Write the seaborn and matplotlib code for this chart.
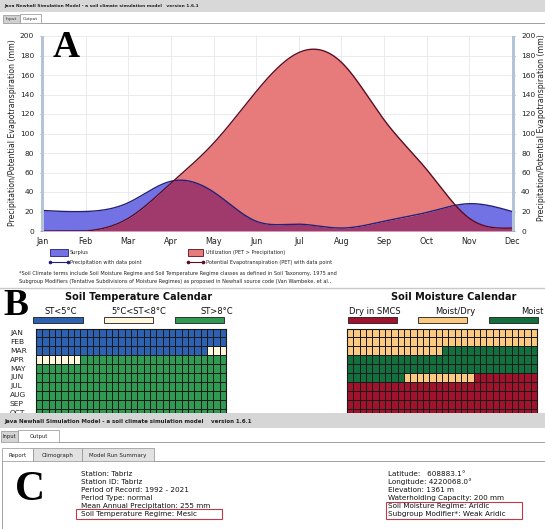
import numpy as np
import pandas as pd
import matplotlib
matplotlib.use("Agg")
import matplotlib.pyplot as plt
import seaborn as sns
from matplotlib.colors import ListedColormap
from matplotlib.patches import Rectangle
from matplotlib.lines import Line2D

# ---------------- data ----------------
months = ["Jan", "Feb", "Mar", "Apr", "May", "Jun", "Jul", "Aug", "Sep", "Oct", "Nov", "Dec"]
precip = [21, 20, 29, 51, 40, 10, 7, 3, 10, 19, 28, 20]
pet = [0, 0, 13, 49, 90, 143, 183, 173, 114, 63, 13, 3]
yticks = [0, 20, 40, 60, 80, 100, 120, 140, 160, 180, 200]

cal_rows = ["JAN", "FEB", "MAR", "APR", "MAY", "JUN", "JUL", "AUG", "SEP", "OCT"]
# temperature classes: 0 = ST<5°C, 1 = 5°C<ST<8°C, 2 = ST>8°C  (runs of days-groups, 30 per month)
temp_runs = [[(0, 30)], [(0, 30)], [(0, 27), (1, 3)], [(1, 7), (2, 23)], [(2, 30)],
             [(2, 30)], [(2, 30)], [(2, 30)], [(2, 30)], [(2, 30)]]
temp_labels = ["ST<5°C", "5°C<ST<8°C", "ST>8°C"]
temp_colors = ["#2d62b3", "#fff8dc", "#2f9a52"]
# moisture classes: 0 = Dry in SMCS, 1 = Moist/Dry, 2 = Moist
moist_runs = [[(1, 30)], [(1, 30)], [(1, 15), (2, 15)], [(2, 30)], [(2, 30)],
              [(2, 9), (1, 11), (0, 10)], [(0, 30)], [(0, 30)], [(0, 30)], [(0, 30)]]
moist_labels = ["Dry in SMCS", "Moist/Dry", "Moist"]
moist_colors = ["#a3122c", "#fbc97f", "#12703e"]

left_info = ["Station: Tabriz", "Station ID: Tabriz", "Period of Record: 1992 - 2021",
             "Period Type: normal", "Mean Annual Precipitation: 255 mm",
             "Soil Temperature Regime: Mesic"]
right_info = ["Latitude:   608883.1°", "Longitude: 4220068.0°", "Elevation: 1361 m",
              "Waterholding Capacity: 200 mm", "Soil Moisture Regime: Aridic",
              "Subgroup Modifier*: Weak Aridic"]

W, H = 545, 529
fig = plt.figure(figsize=(W / 100, H / 100), dpi=100)
fig.patch.set_facecolor("white")


def fx(x):
    return x / W


def fy(y):
    return 1 - y / H


def rect(x0, y0, x1, y1, fc, ec="none", lw=0.6, z=1):
    r = Rectangle((fx(x0), fy(y1)), fx(x1) - fx(x0), fy(y0) - fy(y1), transform=fig.transFigure,
                  facecolor=fc, edgecolor=ec, linewidth=lw, zorder=z)
    fig.add_artist(r)


def txt(x, y, s, size=5, ha="left", va="center", **kw):
    fig.text(fx(x), fy(y), s, fontsize=size, ha=ha, va=va, **kw)


def hline(x0, x1, y, color="#a0a0a0", lw=0.6, z=2):
    fig.add_artist(Line2D([fx(x0), fx(x1)], [fy(y), fy(y)], transform=fig.transFigure,
                          color=color, lw=lw, zorder=z))


# ---------------- window chrome (top) ----------------
rect(0, 0, W, 12, "#d8d8d8")
txt(4, 6.5, "Java Newhall Simulation Model - a soil climate simulation model   version 1.6.1",
    size=3.2, weight="bold", color="#222222")
rect(3, 15, 20, 23, "#d0d0d0", "#909090", 0.5)
rect(20, 14, 41, 23, "white", "#909090", 0.5)
txt(11.5, 19, "Input", size=3.2, ha="center", color="#333333")
txt(30.5, 19, "Output", size=3.2, ha="center", color="#333333")
hline(41, W, 23, "#909090", 0.6)

# ---------------- A: climograph ----------------
def natural_spline(x, y, xs):
    x = np.asarray(x, float)
    y = np.asarray(y, float)
    n = len(x)
    h = np.diff(x)
    A = np.zeros((n, n))
    b = np.zeros(n)
    A[0, 0] = A[-1, -1] = 1
    for i in range(1, n - 1):
        A[i, i - 1] = h[i - 1]
        A[i, i] = 2 * (h[i - 1] + h[i])
        A[i, i + 1] = h[i]
        b[i] = 3 * ((y[i + 1] - y[i]) / h[i] - (y[i] - y[i - 1]) / h[i - 1])
    c = np.linalg.solve(A, b)
    bb = np.diff(y) / h - h * (2 * c[:-1] + c[1:]) / 3
    d = np.diff(c) / (3 * h)
    idx = np.clip(np.searchsorted(x, xs) - 1, 0, n - 2)
    dx = xs - x[idx]
    return y[idx] + bb[idx] * dx + c[idx] * dx ** 2 + d[idx] * dx ** 3


mx = np.arange(len(months))
xs = np.linspace(0, len(months) - 1, 600)
ps = np.clip(natural_spline(mx, precip, xs), 0, None)
es = np.clip(natural_spline(mx, pet, xs), 0, None)
low = np.minimum(ps, es)

ax = fig.add_axes([fx(43), fy(231), fx(512) - fx(43), fy(36) - fy(231)])
ax.set_facecolor("white")
ax.fill_between(xs, 0, low, color="#a13a6c", lw=0, zorder=2)
ax.fill_between(xs, low, ps, color="#7272e4", lw=0, zorder=2)
ax.fill_between(xs, low, es, color="#e77b7b", lw=0, zorder=2)
curves = pd.DataFrame({"x": np.concatenate([xs, xs]), "y": np.concatenate([ps, es]),
                       "series": ["Precipitation"] * len(xs) + ["PET"] * len(xs)})
sns.lineplot(data=curves, x="x", y="y", hue="series",
             palette={"Precipitation": "#22207a", "PET": "#5c0c24"},
             linewidth=1.0, legend=False, ax=ax, zorder=3, estimator=None, sort=False)
ax.set_xlim(0, len(months) - 1)
ax.set_ylim(0, 200)
ax.set_xticks(mx)
ax.set_xticklabels(months, fontsize=5.8, color="#222222")
ax.set_yticks(yticks)
ax.set_yticklabels([str(v) for v in yticks], fontsize=5.4, color="#222222")
ax.grid(True, color="#e6e6ec", lw=0.6, zorder=0)
ax.set_axisbelow(True)
ax.set_xlabel("")
ax.set_ylabel("")
for s in ax.spines.values():
    s.set_visible(False)
ax.tick_params(axis="x", length=0, pad=4)
ax.tick_params(axis="y", which="both", length=2.5, width=0.6, color="#8a9aac",
               direction="out", pad=4, right=True, labelright=True, left=True, labelleft=True)
# light steel-blue axis bars
rect(40.5, 36, 43.5, 231, "#b4c4d6", z=3)
rect(511.5, 36, 514.5, 231, "#b4c4d6", z=3)

txt(12.5, 133, "Precipitation/Potential Evapotranspiration (mm)", size=5.6, ha="center",
    rotation=90, color="#222222")
txt(541, 128, "Precipitation/Potential Evapotranspiration (mm)", size=5.6, ha="center",
    rotation=90, color="#222222")
txt(53, 57, "A", size=27, va="baseline", family="Liberation Serif", weight="bold")

# legend
rect(50, 249, 68, 256, "#7272e4", "#22207a", 0.6)
txt(70, 252.5, "Surplus", size=3.6, color="#222222")
fig.add_artist(Line2D([fx(50), fx(68)], [fy(262), fy(262)], transform=fig.transFigure,
                      color="#22207a", lw=0.8, marker="o", markersize=1.6, markevery=[0, 1]))
txt(70, 262, "Precipitation with data point", size=3.6, color="#222222")
rect(188, 249, 203, 256, "#e77b7b", "#5c0c24", 0.6)
txt(206, 252.5, "Utilization (PET > Precipitation)", size=3.6, color="#222222")
fig.add_artist(Line2D([fx(188), fx(203)], [fy(262), fy(262)], transform=fig.transFigure,
                      color="#5c0c24", lw=0.8, marker="o", markersize=1.6, markevery=[0, 1]))
txt(206, 262, "Potential Evapotranspiration (PET) with data point", size=3.6, color="#222222")
txt(19, 274, "*Soil Climate terms include Soil Moisture Regime and Soil Temperature Regime classes "
    "as defined in Soil Taxonomy, 1975 and", size=3.6, color="#222222")
txt(19, 282, "Subgroup Modifiers (Tentative Subdivisions of Moisture Regimes) as proposed in Newhall "
    "source code (Van Wambeke, et al.,", size=3.6, color="#222222")
hline(0, W, 288, "#c8c8c8", 1.0)

# ---------------- B: calendars ----------------
txt(3, 315, "B", size=27, va="baseline", family="Liberation Serif", weight="bold")


def build(runs):
    mat = []
    for row in runs:
        r = []
        for code, n in row:
            r += [code] * n
        mat.append(r)
    return np.array(mat)


def calendar(x0, x1, runs, colors):
    cax = fig.add_axes([fx(x0), fy(413), fx(x1) - fx(x0), fy(328.5) - fy(413)])
    sns.heatmap(build(runs), cmap=ListedColormap(colors), vmin=-0.5, vmax=2.5, cbar=False,
                linewidths=0.55, linecolor="#1a1a1a", xticklabels=False, yticklabels=False,
                ax=cax)
    cax.set_ylim(9.5, 0)
    for s in cax.spines.values():
        s.set_visible(True)
        s.set_color("#1a1a1a")
        s.set_linewidth(0.8)
    return cax


calendar(36, 226, temp_runs, temp_colors)
calendar(347, 537, moist_runs, moist_colors)
for i, m in enumerate(cal_rows):
    txt(10, 333 + i * 8.9, m, size=5.4, color="#222222")

txt(139, 297, "Soil Temperature Calendar", size=7, ha="center", weight="bold", color="#111111")
txt(454, 297, "Soil Moisture Calendar", size=7, ha="center", weight="bold", color="#111111")
for cx, lab in zip([61, 139, 217], temp_labels):
    txt(cx, 311, lab, size=6, ha="center", color="#111111")
for (a, b), c in zip([(33, 83), (104, 153), (175, 224)], temp_colors):
    rect(a, 317, b, 323, c, "#1a1a1a", 0.6)
txt(375, 311, moist_labels[0], size=6, ha="center", color="#111111")
txt(455, 311, moist_labels[1], size=6, ha="center", color="#111111")
txt(544, 311, moist_labels[2], size=6, ha="right", color="#111111")
for (a, b), c in zip([(348, 397), (418, 467), (489, 538)], moist_colors):
    rect(a, 317, b, 323, c, "#1a1a1a", 0.6)

# ---------------- C: report ----------------
rect(0, 413, W, 428, "#d6d6d6", z=5)
txt(4, 421, "Java Newhall Simulation Model - a soil climate simulation model    version 1.6.1",
    size=4, weight="bold", color="#222222", zorder=6)
rect(1, 431, 18, 442, "#d4d4d4", "#909090", 0.5)
rect(18, 430, 59, 442, "white", "#909090", 0.5)
txt(9.5, 436.5, "Input", size=3.8, ha="center", color="#222222")
txt(38.5, 436.5, "Output", size=3.8, ha="center", color="#222222")
hline(59, W, 442, "#909090", 0.6)
rect(2, 448, 33, 461, "white", "#909090", 0.5)
rect(33, 448, 82, 461, "#e2e2e2", "#909090", 0.5)
rect(82, 448, 154, 461, "#e2e2e2", "#909090", 0.5)
txt(17.5, 455, "Report", size=4, ha="center", color="#222222")
txt(57.5, 455, "Climograph", size=4, ha="center", color="#222222")
txt(118, 455, "Model Run Summary", size=4, ha="center", color="#222222")
hline(154, W, 461, "#909090", 0.6)
fig.add_artist(Line2D([fx(2), fx(2)], [fy(461), fy(529)], transform=fig.transFigure,
                      color="#909090", lw=0.6))
txt(15, 500, "C", size=30, va="baseline", family="Liberation Serif", weight="bold")

line_y = [473.5, 481.5, 490, 498, 506, 514]
for y, s in zip(line_y, left_info):
    txt(81, y, s, size=5.2, color="#111111")
for y, s in zip(line_y, right_info):
    txt(388, y, s, size=5.2, color="#111111")
rect(76, 509, 222, 519, "none", "#c0394b", 0.8, z=4)
rect(386, 502, 522, 519, "none", "#c0394b", 0.8, z=4)

fig.savefig("out.png", dpi=100, facecolor="white")
